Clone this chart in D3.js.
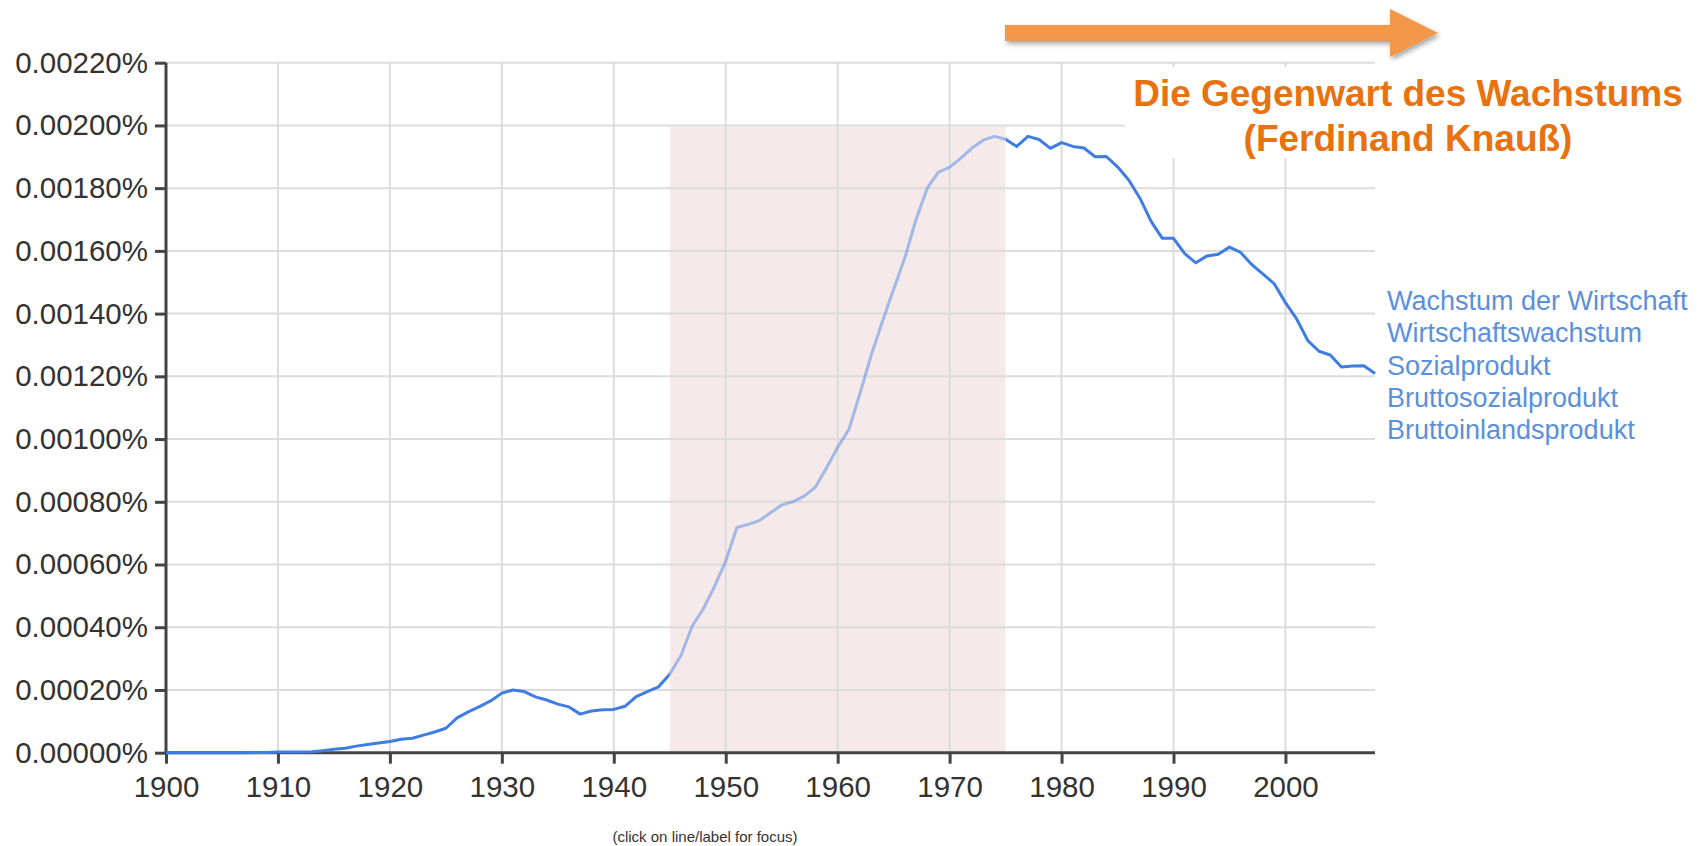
<!DOCTYPE html>
<html>
<head>
<meta charset="utf-8">
<script src="https://cdn.jsdelivr.net/npm/d3@7"></script>
<style>
  html, body { margin: 0; padding: 0; background: #fff; }
  svg { display: block; }
  text { font-family: "Liberation Sans", Arial, Helvetica, sans-serif; }
</style>
</head>
<body>
<svg id="chart" width="1699" height="846"></svg>
<script>
// ---- data ----
const startYear = 1900;
const endYear = 2008;
const years = d3.range(startYear, endYear + 1);
// values in percent
const values = [
  0, 0, 0, 0, 0, 0, 0, 0, 0.000001, 0.000001,                                  // 1900-1909
  0.000002, 0.000002, 0.000002, 0.000003, 0.000006, 0.000011, 0.000014, 0.000021, 0.000026, 0.000031, // 1910-1919
  0.000036, 0.000043, 0.000046, 0.000056, 0.000066, 0.000078, 0.000111, 0.000130, 0.000147, 0.000165, // 1920-1929
  0.000190, 0.000200, 0.000195, 0.000178, 0.000168, 0.000155, 0.000146, 0.000123, 0.000133, 0.000137, // 1930-1939
  0.000138, 0.000148, 0.000179, 0.000195, 0.000210, 0.000250, 0.000310, 0.000403, 0.000459, 0.000530, // 1940-1949
  0.000611, 0.000718, 0.000728, 0.000740, 0.000765, 0.000790, 0.000800, 0.000818, 0.000846, 0.000908, // 1950-1959
  0.000974, 0.001030, 0.001146, 0.001268, 0.001375, 0.001478, 0.001578, 0.001700, 0.001800, 0.001851, // 1960-1969
  0.001866, 0.001896, 0.001928, 0.001953, 0.001965, 0.001956, 0.001933, 0.001965, 0.001955, 0.001927, // 1970-1979
  0.001945, 0.001933, 0.001928, 0.001900, 0.001901, 0.001868, 0.001826, 0.001768, 0.001694, 0.001640, // 1980-1989
  0.001640, 0.001591, 0.001562, 0.001584, 0.001589, 0.001612, 0.001595, 0.001556, 0.001526, 0.001495, // 1990-1999
  0.001435, 0.001383, 0.001314, 0.001280, 0.001268, 0.001230, 0.001233, 0.001234, 0.001209            // 2000-2008
];
const xTicks = [1900, 1910, 1920, 1930, 1940, 1950, 1960, 1970, 1980, 1990, 2000];
const yTicks = [0, 0.0002, 0.0004, 0.0006, 0.0008, 0.0010, 0.0012, 0.0014, 0.0016, 0.0018, 0.0020, 0.0022];
const legendLabels = ["Wachstum der Wirtschaft", "Wirtschaftswachstum", "Sozialprodukt", "Bruttosozialprodukt", "Bruttoinlandsprodukt"];
const highlightRange = [1945, 1975];
const highlightTop = 0.0020;
const titleLines = ["Die Gegenwart des Wachstums", "(Ferdinand Knauß)"];
const footerText = "(click on line/label for focus)";

const data = years.map((y, i) => ({ year: y, value: values[i] }));

// ---- layout ----
const svg = d3.select("#chart");
const x = d3.scaleLinear().domain([startYear, endYear]).range([166, 1375]);
const y = d3.scaleLinear().domain([0, 0.0022]).range([752.7, 62.7]);

const defs = svg.append("defs");
const shadow = defs.append("filter").attr("id", "shadow")
  .attr("x", "-10%").attr("y", "-50%").attr("width", "120%").attr("height", "220%");
shadow.append("feDropShadow").attr("dx", 2).attr("dy", 3).attr("stdDeviation", 2.5)
  .attr("flood-color", "#000").attr("flood-opacity", 0.35);

defs.append("clipPath").attr("id", "clipIn").append("rect")
  .attr("x", x(highlightRange[0])).attr("y", 0)
  .attr("width", x(highlightRange[1]) - x(highlightRange[0])).attr("height", 846);
defs.append("clipPath").attr("id", "clipLeft").append("rect")
  .attr("x", 0).attr("y", 0).attr("width", x(highlightRange[0])).attr("height", 846);
defs.append("clipPath").attr("id", "clipRight").append("rect")
  .attr("x", x(highlightRange[1])).attr("y", 0).attr("width", 1699 - x(highlightRange[1])).attr("height", 846);

// highlight shade
svg.append("rect")
  .attr("x", x(highlightRange[0]))
  .attr("y", y(highlightTop) + 1.5)
  .attr("width", x(highlightRange[1]) - x(highlightRange[0]))
  .attr("height", y(0) - y(highlightTop) - 1.5)
  .attr("fill", "#f5e9e9");

// grid
const grid = svg.append("g").attr("stroke", "#dcdcdc").attr("stroke-width", 2);
grid.selectAll("line.h").data(yTicks.filter(d => d > 0)).join("line")
  .attr("x1", x(startYear)).attr("x2", x(endYear))
  .attr("y1", d => y(d)).attr("y2", d => y(d));
grid.selectAll("line.v").data(xTicks.filter(d => d > startYear)).join("line")
  .attr("x1", d => x(d)).attr("x2", d => x(d))
  .attr("y1", y(0.0022)).attr("y2", y(0));

// axes
const fmt = d3.format(".5f");
const yAxis = d3.axisLeft(y).tickValues(yTicks).tickFormat(d => fmt(d) + "%").tickSize(11).tickPadding(7);
const xAxis = d3.axisBottom(x).tickValues(xTicks).tickFormat(d3.format("d")).tickSize(11).tickPadding(6);

const gy = svg.append("g").attr("transform", `translate(${x(startYear)},0)`).call(yAxis);
const gx = svg.append("g").attr("transform", `translate(0,${y(0)})`).call(xAxis);
[gx, gy].forEach(g => {
  g.select(".domain").attr("stroke", "#444").attr("stroke-width", 3);
  g.selectAll(".tick line").attr("stroke", "#444").attr("stroke-width", 3);
  g.selectAll(".tick text").attr("fill", "#333").style("font-size", "29.5px")
    .style("font-family", "'Liberation Sans', Arial, Helvetica, sans-serif");
});
gy.select(".domain").attr("d", `M0,${y(0.0022)}V${y(0)}`);
gx.select(".domain").attr("d", `M${x(startYear)},0H${x(endYear)}`);
gx.selectAll(".tick text").attr("dy", "0.93em");

// line
const line = d3.line().x(d => x(d.year)).y(d => y(d.value));
const lineColor = "#3f7de2";
["clipLeft", "clipRight"].forEach(c => {
  svg.append("path").datum(data).attr("d", line)
    .attr("fill", "none").attr("stroke", lineColor).attr("stroke-width", 3)
    .attr("stroke-linejoin", "round").attr("clip-path", `url(#${c})`);
});
svg.append("path").datum(data).attr("d", line)
  .attr("fill", "none").attr("stroke", lineColor).attr("stroke-width", 3)
  .attr("stroke-opacity", 0.45)
  .attr("stroke-linejoin", "round").attr("clip-path", "url(#clipIn)");

// legend
svg.append("g").selectAll("text").data(legendLabels).join("text")
  .attr("x", 1387)
  .attr("y", (d, i) => 310 + i * 32.3)
  .attr("fill", "#5a90dc")
  .style("font-size", "27px")
  .text(d => d);

// white box behind title
svg.append("rect").attr("x", 1125).attr("y", 67).attr("width", 260).attr("height", 91).attr("fill", "#fff");

// title
svg.append("g").selectAll("text").data(titleLines).join("text")
  .attr("x", 1408)
  .attr("y", (d, i) => 106 + i * 45)
  .attr("text-anchor", "middle")
  .attr("fill", "#e8720f")
  .style("font-size", "37px")
  .style("font-weight", "bold")
  .text(d => d);

// arrow
const arrow = svg.append("g").attr("filter", "url(#shadow)");
arrow.append("rect").attr("x", 1005).attr("y", 25).attr("width", 390).attr("height", 16).attr("fill", "#f5974a");
arrow.append("path").attr("d", "M1390,9 L1438,33 L1390,57 Z").attr("fill", "#f5974a");

// footer
svg.append("text").attr("x", 705).attr("y", 842).attr("text-anchor", "middle")
  .attr("fill", "#333").style("font-size", "15px").text(footerText);
</script>
</body>
</html>
